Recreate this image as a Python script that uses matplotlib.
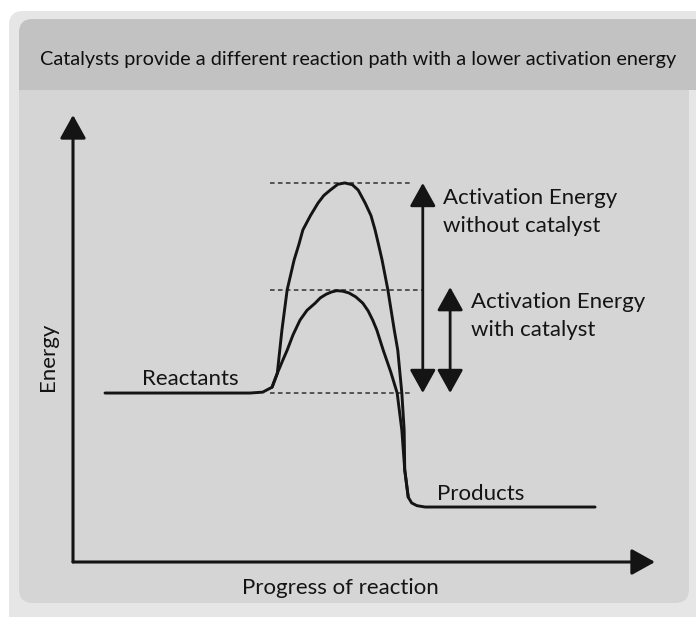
import matplotlib
matplotlib.use("Agg")
import matplotlib.pyplot as plt
from matplotlib.patches import FancyBboxPatch

plt.rcParams['font.family'] = ['Lato', 'DejaVu Sans']

title = "Catalysts provide a different reaction path with a lower activation energy"

# energy profile (progress 0-100, energy 0-100)
uncat_x = [5.5, 30.4, 32.6, 34.2, 35.1, 35.9, 36.8, 38.0, 38.8, 39.5, 40.8, 42.1,
           43.1, 44.2, 45.5, 46.7, 48.0, 49.0, 49.5, 50.2, 51.2, 51.9, 52.5, 53.1,
           54.1, 55.2, 55.8, 56.5, 56.9, 57.0, 57.6, 58.2, 59.1, 60.5, 89.7]
uncat_y = [37.8, 37.8, 38.0, 39.1, 42.2, 51.9, 60.9, 67.6, 71.0, 74.3, 77.5, 80.3,
           82.0, 83.2, 84.5, 84.8, 84.4, 83.2, 82.0, 80.3, 77.5, 74.3, 71.0, 67.6,
           60.9, 51.9, 47.4, 37.8, 29.5, 20.6, 14.5, 13.2, 12.6, 12.3, 12.3]

cat_x = [34.2, 35.1, 36.0, 36.8, 37.8, 39.0, 40.2, 41.6, 42.5, 43.5, 44.4, 45.3,
         46.3, 47.4, 48.6, 49.8, 50.7, 51.5, 52.2, 53.3, 54.6, 55.7, 56.5, 57.0,
         57.6]
cat_y = [39.1, 42.2, 45.0, 47.4, 50.8, 54.1, 56.3, 57.9, 59.1, 59.9, 60.4, 60.7,
         60.6, 60.2, 59.3, 57.9, 56.2, 54.1, 51.9, 47.4, 42.5, 37.8, 29.5, 20.6,
         14.5]

reactant_level = 37.8
uncat_peak = 84.8
cat_peak = 60.8
dash_left = 33.8
dash_right = [57.9, 60.1, 58.5]   # top, middle, bottom dashed guide ends
arrow_x = [60.1, 64.8]             # without / with catalyst

ink = '#141414'

fig = plt.figure(figsize=(6.96, 6.17), dpi=100)

# background panels drawn in pixel units
bg = fig.add_axes([0, 0, 1, 1])
bg.set_xlim(0, 696)
bg.set_ylim(617, 0)
bg.axis('off')
bg.add_patch(FancyBboxPatch((9, 11), 700, 620, boxstyle='round,pad=0,rounding_size=14',
                            fc='#e6e6e6', ec='none'))
bg.add_patch(FancyBboxPatch((19, 19), 670, 584, boxstyle='round,pad=0,rounding_size=14',
                            fc='#d5d5d5', ec='none'))
bg.add_patch(FancyBboxPatch((19, 19), 690, 71, boxstyle='round,pad=0,rounding_size=14',
                            fc='#c2c2c2', ec='none'))
bg.add_patch(plt.Rectangle((19, 60), 690, 30, fc='#c2c2c2', ec='none'))
fig.text(0.514, 0.903, title, ha='center', va='center', fontsize=14.3, color='#101010')

ax = fig.add_axes([73 / 696, 55 / 617, 582 / 696, 447 / 617])
ax.set_xlim(0, 100)
ax.set_ylim(0, 100)
ax.axis('off')

# axes with arrow heads
ax_style = '-|>,head_length=0.72,head_width=0.4'
ax.annotate('', xy=(100, 0), xytext=(0, 0), annotation_clip=False,
            arrowprops=dict(arrowstyle=ax_style, lw=2.2, color=ink,
                            shrinkA=0, shrinkB=0, mutation_scale=20))
ax.annotate('', xy=(0, 100), xytext=(0, 0), annotation_clip=False,
            arrowprops=dict(arrowstyle=ax_style, lw=2.2, color=ink,
                            shrinkA=0, shrinkB=0, mutation_scale=20))

# dashed guides
for lvl, xr in zip([uncat_peak, cat_peak, reactant_level], dash_right):
    ax.plot([dash_left, xr], [lvl, lvl], color='#303030', lw=1.1, ls=(0, (3, 2.2)))

ax.plot(uncat_x, uncat_y, color=ink, lw=2.1, solid_joinstyle='round', solid_capstyle='round')
ax.plot(cat_x, cat_y, color=ink, lw=2.1, solid_joinstyle='round', solid_capstyle='round')

# activation energy arrows
dbl = '<|-|>,head_length=0.72,head_width=0.4'
for x, top in zip(arrow_x, [uncat_peak, cat_peak + 0.7]):
    ax.annotate('', xy=(x, top), xytext=(x, reactant_level),
                arrowprops=dict(arrowstyle=dbl, lw=2.0, color=ink,
                                shrinkA=0, shrinkB=0, mutation_scale=20))

lab = dict(fontsize=16, color=ink)
ax.text(63.6, 83.6, 'Activation Energy\nwithout catalyst', ha='left', va='top',
        linespacing=1.5, **lab)
ax.text(68.4, 60.4, 'Activation Energy\nwith catalyst', ha='left', va='top',
        linespacing=1.5, **lab)
ax.text(11.9, 39.6, 'Reactants', ha='left', va='baseline', **lab)
ax.text(62.5, 13.9, 'Products', ha='left', va='baseline', **lab)
ax.text(46.0, -5.8, 'Progress of reaction', ha='center', va='center', **lab)
ax.text(-4.3, 45.9, 'Energy', ha='center', va='center', rotation=90, **lab)

fig.savefig('out.png', dpi=100)
